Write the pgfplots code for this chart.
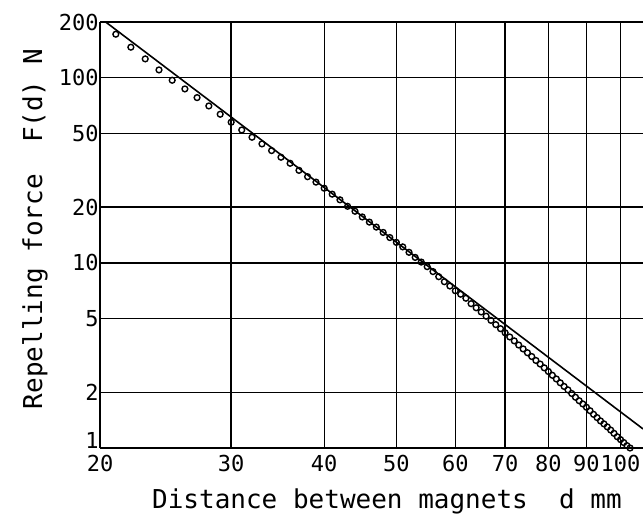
\documentclass[border=0pt]{standalone}
\usepackage{fontspec}
\setmainfont{DejaVu Sans Mono}
\usepackage{pgfplots}
\usepackage{pgfplotstable}
\pgfplotsset{compat=1.18}
\pgfplotstableread{
d F
21 171.8
22 146.2
23 126.4
24 110.2
25 96.9
26 87.0
27 78.1
28 70.4
29 63.5
30 57.5
31 52.2
32 47.7
33 43.9
34 40.4
35 37.2
36 34.5
37 31.6
38 29.2
39 27.3
40 25.3
41 23.5
42 21.9
43 20.2
44 19.0
45 17.7
46 16.6
47 15.6
48 14.6
49 13.7
50 12.9
51 12.2
52 11.4
53 10.7
54 10.1
55 9.54
56 8.97
57 8.42
58 7.91
59 7.50
60 7.07
61 6.77
62 6.44
63 6.02
64 5.72
65 5.43
66 5.15
67 4.89
68 4.64
69 4.41
70 4.19
71 3.98
72 3.79
73 3.60
74 3.43
75 3.27
76 3.12
77 2.97
78 2.84
79 2.71
80 2.59
81 2.47
82 2.36
83 2.25
84 2.15
85 2.06
86 1.97
87 1.88
88 1.80
89 1.73
90 1.66
91 1.59
92 1.52
93 1.46
94 1.40
95 1.35
96 1.30
97 1.25
98 1.20
99 1.15
100 1.11
101 1.07
102 1.03
103 1.00
}\measured
\begin{document}
\begin{tikzpicture}[x=1pt,y=1pt]
\useasboundingbox (0,0) rectangle (321.5,262);
\begin{axis}[
  at={(50pt,38pt)}, anchor=south west,
  width=271.5pt, height=213pt, scale only axis,
  xmode=log, ymode=log,
  xmin=20, xmax=107.2, ymin=1, ymax=200,
  xtick={20,30,40,50,60,70,80,90,100},
  xticklabels={20,30,40,50,60,70,80,90,100},
  ytick={2,5,10,20,50,100,200},
  yticklabels={2,5,10,20,50,100,200},
  extra y ticks={1}, extra y tick labels={1},
  extra y tick style={yticklabel style={yshift=4pt}},
  minor xtick={}, minor ytick={},
  grid=major, major grid style={black, line width=0.7pt},
  major tick length=0pt,
  axis x line*=box, axis y line*=left,
  axis line style={black, line width=1.2pt, -},
  tick label style={font=\fontsize{11}{13}\selectfont},
  /pgf/number format/assume math mode=true,
  yticklabel style={inner xsep=0.5pt},
  xlabel={Distance between magnets~~d mm},
  ylabel={Repelling force~~F(d) N},
  label style={font=\fontsize{13}{15}\selectfont},
  xlabel style={at={([yshift=-30.5pt]axis description cs:0.5285,0)}, anchor=base},
  ylabel style={at={([xshift=-29pt]axis description cs:0,0.514)}, anchor=base},
  clip=false,
]
\addplot[black, line width=0.8pt] coordinates {(20.35,200) (107.2,1.268)};
\addplot[only marks, mark=o, mark size=1.45pt, mark options={black, line width=0.7pt}] table[x=d, y=F] {\measured};
\end{axis}
\end{tikzpicture}
\end{document}
